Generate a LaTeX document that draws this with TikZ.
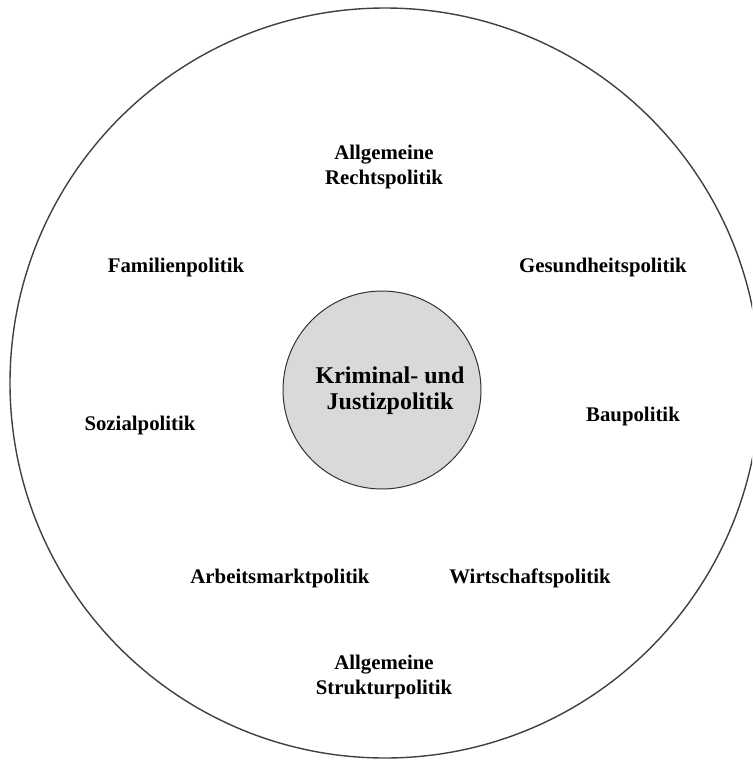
\documentclass[tikz,border=0pt]{standalone}
\usepackage{fontspec}
\setmainfont{Liberation Serif}
\definecolor{innerfill}{HTML}{D9D9D9}
\begin{document}
\begin{tikzpicture}[x=0.5pt,y=-0.5pt,
  lbl/.style={font=\fontsize{10.4}{12.4}\selectfont\bfseries, align=center, inner sep=0pt},
  ctr/.style={font=\fontsize{12}{13.2}\selectfont\bfseries, align=center, inner sep=0pt}]
\useasboundingbox (0,0) rectangle (752,761);
\begin{scope}
\clip (0,0) rectangle (752,761);
\draw[line width=0.7pt, draw=black!75] (385,383) circle[radius=375];
\end{scope}
\node[circle, draw=black!80, line width=0.5pt, fill=innerfill, minimum size=99pt, inner sep=0pt] (core) at (382,390) {};
\node[ctr] (kj) at (390,391) {Kriminal- und\\Justizpolitik};
\node[lbl] (recht) at (384,167) {Allgemeine\\Rechtspolitik};
\node[lbl] (fam) at (176,267) {Familienpolitik};
\node[lbl] (ges) at (603,267) {Gesundheitspolitik};
\node[lbl] (soz) at (140,425) {Sozialpolitik};
\node[lbl] (bau) at (633,416) {Baupolitik};
\node[lbl] (arb) at (280,578) {Arbeitsmarktpolitik};
\node[lbl] (wirt) at (530,578) {Wirtschaftspolitik};
\node[lbl] (struk) at (384,677) {Allgemeine\\Strukturpolitik};
\end{tikzpicture}
\end{document}
